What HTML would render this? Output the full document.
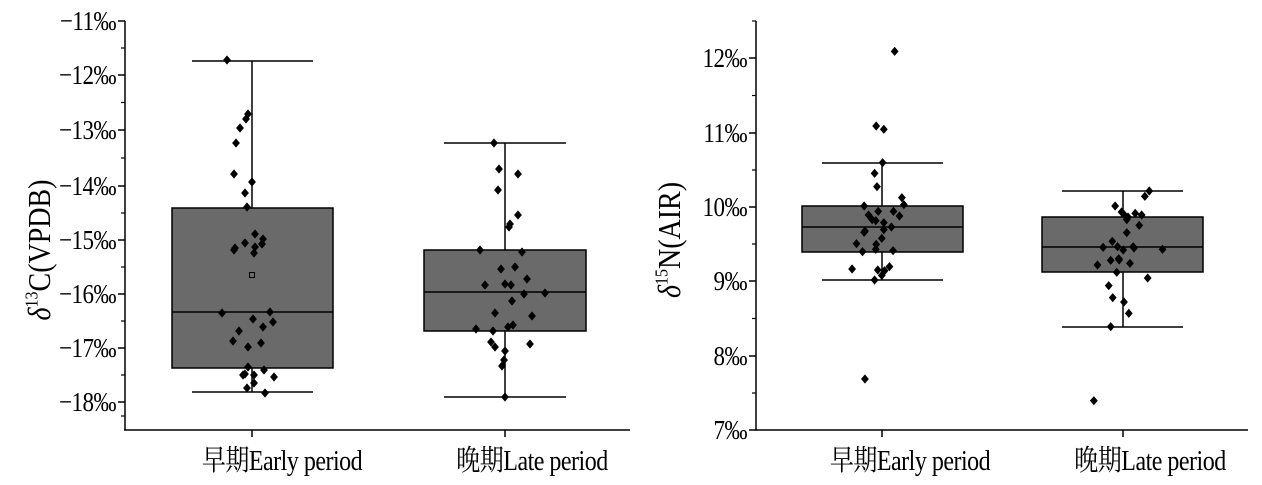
<!DOCTYPE html>
<html><head><meta charset="utf-8"><style>
html,body{margin:0;padding:0;background:#fff;width:1262px;height:485px;overflow:hidden}
svg text{font-family:"Liberation Serif","Noto Serif CJK SC",serif;fill:#000}
</style></head><body>
<svg id="s" width="1262" height="485" viewBox="0 0 1262 485" xmlns="http://www.w3.org/2000/svg"></svg>
<script>
const s=document.getElementById('s');let h='';
function line(x1,y1,x2,y2,w){h+=`<line x1="${x1}" y1="${y1}" x2="${x2}" y2="${y2}" stroke="#000" stroke-width="${w||1.5}"/>`;}
function txt(x,y,t,size,anchor,extra){h+=`<text transform="translate(${x},${y}) scale(1,1.2)" font-size="${size}" text-anchor="${anchor||'middle'}" ${extra||''}>${t}</text>`;}
function dia(x,y){const r=4.6;h+=`<polygon points="${x},${y-r} ${x+r*0.85},${y} ${x},${y+r} ${x-r*0.85},${y}" fill="#000"/>`;}
function box(cx,x1,x2,top,bot,med,wt,wb){
 line(cx,wt,cx,top);line(cx,bot,cx,wb);
 line(x1+20,wt,x2-20,wt);line(x1+20,wb,x2-20,wb);
 h+=`<rect x="${x1}" y="${top}" width="${x2-x1}" height="${bot-top}" fill="#6a6a6a" stroke="#000" stroke-width="1.5"/>`;
 line(x1,med,x2,med);
}
// LEFT
const ax=125,ab=430;
box(252,172,333,208,368,312,61,392);
box(505,424,586,250,331,292,143,397);
line(ax,21,ax,ab);line(ax-1,ab,630,ab);
const lt=[21,75,130,186,240,294,348,402];
lt.forEach((y,i)=>{line(ax-7,y,ax,y);txt(ax-9,y+9,'−'+(11+i)+'‰',23,'end','letter-spacing="-0.5"');if(i<7)line(ax-4,(y+lt[i+1])/2,ax,(y+lt[i+1])/2,1.2);});
line(ax-4,416,ax,416,1.2);
line(252,ab,252,ab+7);line(505,ab,505,ab+7);
txt(282,470,'早期Early period',24,'middle','letter-spacing="-0.5"');txt(532,470,'晚期Late period',24,'middle','letter-spacing="-0.5"');
h+=`<text transform="translate(50,250) rotate(-90) scale(1.0,1.15)" font-size="28" text-anchor="middle"><tspan font-style="italic">δ</tspan><tspan font-size="16" dy="-11">13</tspan><tspan dy="11">C(VPDB)</tspan></text>`;
h+=`<rect x="249.5" y="272.5" width="5" height="5" fill="none" stroke="#000" stroke-width="1"/>`;
const L=[[227,60],[248,114],[246,119],[240,128],[236,143],[234,174],[252,182],[245,193],[247,207],[255,234],[263,239],[234,250],[235,248],[245,243],[255,247],[262,244],[254,253],[222,313],[270,312],[253,319],[273,322],[263,327],[239,331],[233,341],[261,343],[248,347],[248,367],[264,370],[243,375],[254,375],[274,377],[247,388],[254,383],[265,393],[245,374],
[494,143],[499,169],[518,174],[498,190],[518,215],[510,224],[509,227],[480,250],[522,252],[501,269],[515,267],[527,279],[485,285],[505,284],[511,285],[545,293],[524,294],[512,301],[495,313],[532,316],[513,325],[508,327],[476,329],[493,331],[491,342],[530,344],[495,347],[505,351],[504,360],[502,366],[505,397]];
L.forEach(p=>dia(p[0],p[1]));
// RIGHT
const bx=756;
box(882,802,963,206,252,227,163,280);
box(1123,1042,1203,217,272,247,191,327);
line(bx,21,bx,ab);line(bx-1,ab,1248,ab);
const rt=[58,133,207,281,356,430];
rt.forEach((y,i)=>{line(bx-7,y,bx,y);txt(bx-9,y+9,(12-i)+'‰',23,'end','letter-spacing="-0.5"');if(i<5)line(bx-4,(y+rt[i+1])/2,bx,(y+rt[i+1])/2,1.2);});
line(bx-4,21,bx,21,1.2);
line(882,ab,882,ab+7);line(1123,ab,1123,ab+7);
txt(910,470,'早期Early period',24,'middle','letter-spacing="-0.5"');txt(1150,470,'晚期Late period',24,'middle','letter-spacing="-0.5"');
h+=`<text transform="translate(680,240) rotate(-90) scale(1.0,1.15)" font-size="28" text-anchor="middle"><tspan font-style="italic">δ</tspan><tspan font-size="16" dy="-11">15</tspan><tspan dy="11">N(AIR)</tspan></text>`;
const R=[[659,154],[613,378],[632,388],[629,488],[609,520],[615,560],[677,593],[682,614],[583,618],[594,645],[618,634],[656,634],[671,648],[603,659],[612,662],[632,668],[651,681],[632,689],[585,693],[583,697],[627,715],[564,731],[613,733],[612,748],[655,752],[579,755],[553,807],[646,800],[617,810],[634,812],[627,826],[609,840],[585,1137],
[1293,573],[1282,589],[1208,618],[1224,636],[1229,642],[1258,640],[1274,645],[1240,651],[1237,659],[1268,676],[1237,698],[1201,724],[1178,742],[1214,740],[1253,740],[1228,750],[1255,744],[1326,748],[1197,781],[1218,780],[1217,776],[1245,790],[1164,795],[1212,817],[1289,834],[1192,857],[1202,893],[1230,906],[1242,940],[1197,980],[1155,1202]];
R.forEach(p=>dia(630+p[0]/2.49,p[1]/3));
s.innerHTML=h;
</script>
</body></html>
